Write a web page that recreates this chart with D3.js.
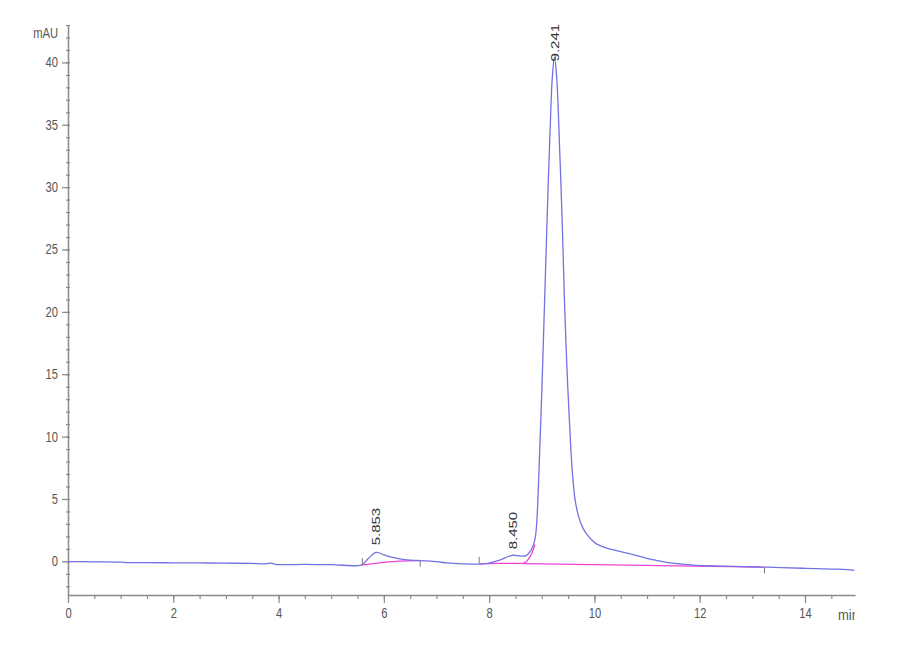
<!DOCTYPE html>
<html>
<head>
<meta charset="utf-8">
<script src="https://cdn.jsdelivr.net/npm/d3@7/dist/d3.min.js"></script>
<style>
html,body{margin:0;padding:0;background:#fff;}
svg{display:block;}
</style>
</head>
<body>
<svg id="chart" width="900" height="660"></svg>
<script>
// ---- data (time in min, signal in mAU) ----
const traceTime = [0, 0.5, 1.0, 1.12, 1.5, 2.0, 2.5, 3.0, 3.5, 3.75, 3.85, 3.95, 4.5, 5.0, 5.58,
  5.7, 5.85, 6.0, 6.12, 6.3, 6.5, 6.7, 6.82, 7.0, 7.2, 7.5, 7.83, 8.0, 8.2, 8.44, 8.6, 8.7,
  8.78, 8.84, 8.88, 8.91, 8.94, 8.97, 9.00, 9.04, 9.08, 9.12, 9.16, 9.20, 9.24,
  9.28, 9.31, 9.34, 9.37, 9.40, 9.43, 9.46, 9.49, 9.52, 9.55, 9.58, 9.63, 9.68, 9.73, 9.79,
  9.85, 9.94, 10.04, 10.17, 10.30, 10.50, 10.70, 10.90, 11.06, 11.25, 11.44, 11.65, 11.87,
  12.4, 12.78, 13.16, 13.54, 14.0, 14.5, 14.8, 14.94];
const traceValue = [-0.02, -0.04, -0.06, -0.1, -0.1, -0.12, -0.13, -0.15, -0.17, -0.2, -0.14, -0.24, -0.25, -0.27, -0.28,
  0.2, 0.72, 0.52, 0.36, 0.2, 0.1, 0.06, 0.03, -0.03, -0.13, -0.2, -0.22, -0.15, 0.1, 0.48, 0.42, 0.45,
  0.8, 1.3, 2.0, 3.5, 6.5, 10, 13.5, 19, 24.5, 30, 34.8, 38.8, 40.4,
  39.0, 36.5, 33, 29.5, 25.5, 21, 17.4, 14.3, 11.7, 9.2, 7.2, 5.0, 3.9, 3.2, 2.6,
  2.2, 1.75, 1.4, 1.15, 0.97, 0.78, 0.57, 0.35, 0.18, 0.02, -0.12, -0.22, -0.3,
  -0.38, -0.42, -0.46, -0.5, -0.56, -0.62, -0.66, -0.72];

// integration baselines (pink)
const base1Time = [5.59, 5.8, 6.0, 6.3, 6.69];
const base1Value = [-0.3, -0.18, -0.08, 0.02, 0.05];
const base2Time = [7.83, 8.2, 8.62, 8.7, 8.76, 8.82, 8.87];
const base2Value = [-0.2, -0.17, -0.17, -0.05, 0.25, 0.75, 1.35];
const base3Time = [8.65, 13.23];
const base3Value = [-0.18, -0.47];

// integration event marks
const markTime = [5.59, 6.69, 7.81, 13.23];
const markValue = [-0.3, 0.05, -0.2, -0.47];
const markSide = ["up", "down", "up", "down"];

// peak labels
const peakLabels = ["5.853", "8.450", "9.241"];
const peakTime = [5.853, 8.45, 9.245];
const peakApex = [0.72, 0.48, 40.4];

// axis ticks
const yMajorTicks = [0, 5, 10, 15, 20, 25, 30, 35, 40];
const yMinorTicks = d3.range(-2, 44, 1);
const xMajorTicks = [0, 2, 4, 6, 8, 10, 12, 14];
const xMinorTicks = d3.range(0, 15, 0.5);
const yUnit = "mAU";
const xUnit = "min";

// ---- layout ----
const svg = d3.select("#chart");
const mLeft = 68, mRight = 855, mTop = 25, mBottom = 595;
const x = d3.scaleLinear().domain([0, 14.95]).range([mLeft, mRight]);
const y = d3.scaleLinear().domain([-2.7, 43]).range([mBottom, mTop]);

const axisColor = "#8a8a8a";
const labelColor = "#555";
const font = "'Liberation Sans', Arial, sans-serif";

// minor ticks Y
const yMinorAxis = d3.axisLeft(y).tickValues(yMinorTicks).tickSize(2).tickFormat("");
const gyMinor = svg.append("g").attr("transform", `translate(${mLeft},0)`).call(yMinorAxis);
gyMinor.select(".domain").remove();
gyMinor.selectAll(".tick line").attr("x2", -2).attr("x1", 2).attr("stroke", axisColor).attr("stroke-width", 1.2);

// major Y axis
const yAxis = d3.axisLeft(y).tickValues(yMajorTicks).tickSize(6).tickSizeOuter(0).tickFormat(d3.format("d"));
const gy = svg.append("g").attr("transform", `translate(${mLeft},0)`).call(yAxis);
gy.select(".domain").attr("stroke", axisColor).attr("stroke-width", 1.5);
gy.selectAll(".tick line").attr("stroke", axisColor).attr("stroke-width", 1.2);
gy.selectAll(".tick text")
  .attr("fill", labelColor).attr("font-family", font).attr("font-size", 14)
  .attr("x", -10 / 0.8).attr("transform", "scale(0.8,1)");

// Y unit label
svg.append("text").attr("x", 58 / 0.8).attr("y", 38)
  .attr("transform", "scale(0.8,1)")
  .attr("text-anchor", "end").attr("fill", labelColor)
  .attr("font-family", font).attr("font-size", 14).text(yUnit);

// minor ticks X
const xMinorAxis = d3.axisBottom(x).tickValues(xMinorTicks).tickSize(4).tickFormat("");
const gxMinor = svg.append("g").attr("transform", `translate(0,${mBottom})`).call(xMinorAxis);
gxMinor.select(".domain").remove();
gxMinor.selectAll(".tick line").attr("stroke", axisColor).attr("stroke-width", 1.2);

// major X axis
const xAxis = d3.axisBottom(x).tickValues(xMajorTicks).tickSize(8).tickSizeOuter(0).tickFormat(d3.format("d"));
const gx = svg.append("g").attr("transform", `translate(0,${mBottom})`).call(xAxis);
gx.select(".domain").attr("stroke", axisColor).attr("stroke-width", 1.5);
gx.selectAll(".tick line").attr("stroke", axisColor).attr("stroke-width", 1.2);
gx.selectAll(".tick text")
  .attr("fill", labelColor).attr("font-family", font).attr("font-size", 14)
  .attr("y", 13).attr("transform", "scale(0.8,1)");

// X unit (clipped at axis end)
const defs = svg.append("defs");
defs.append("clipPath").attr("id", "unitclip").append("rect")
  .attr("x", 0).attr("y", 0).attr("width", mRight).attr("height", 660);
svg.append("text").attr("clip-path", "url(#unitclip)")
  .attr("x", 838).attr("y", 620)
  .attr("fill", labelColor).attr("font-family", font).attr("font-size", 14)
  .attr("textLength", 21).attr("lengthAdjust", "spacingAndGlyphs")
  .text(xUnit);

// ---- traces ----
const zip = (a, b) => a.map((t, i) => [t, b[i]]);
const lineSmooth = d3.line().x(d => x(d[0])).y(d => y(d[1])).curve(d3.curveCatmullRom.alpha(0.5));
const lineMono = d3.line().x(d => x(d[0])).y(d => y(d[1])).curve(d3.curveMonotoneX);

const pink = "#ee44d4";
[zip(base3Time, base3Value), zip(base1Time, base1Value), zip(base2Time, base2Value)].forEach(pts => {
  svg.append("path").attr("d", lineMono(pts)).attr("fill", "none")
    .attr("stroke", pink).attr("stroke-width", 1.3);
});

svg.append("path").attr("d", lineSmooth(zip(traceTime, traceValue)))
  .attr("fill", "none").attr("stroke", "#7272e4").attr("stroke-width", 1.3)
  .attr("stroke-linejoin", "round");

// integration marks
svg.selectAll(".mark").data(markTime).enter().append("line")
  .attr("x1", d => x(d)).attr("x2", d => x(d))
  .attr("y1", (d, i) => y(markValue[i]))
  .attr("y2", (d, i) => y(markValue[i]) + (markSide[i] === "up" ? -7 : 6))
  .attr("stroke", "#777").attr("stroke-width", 1);

// peak labels
const gap = [7, 6, -4];
peakLabels.forEach((lab, i) => {
  const px = x(peakTime[i]), py = y(peakApex[i]) - gap[i];
  svg.append("text")
    .attr("dy", "0.36em")
    .attr("fill", "#333").attr("font-family", font).attr("font-size", 15)
    .attr("transform", `translate(${px},${py}) rotate(-90) scale(1,0.78)`)
    .text(lab);
});
</script>
</body>
</html>
